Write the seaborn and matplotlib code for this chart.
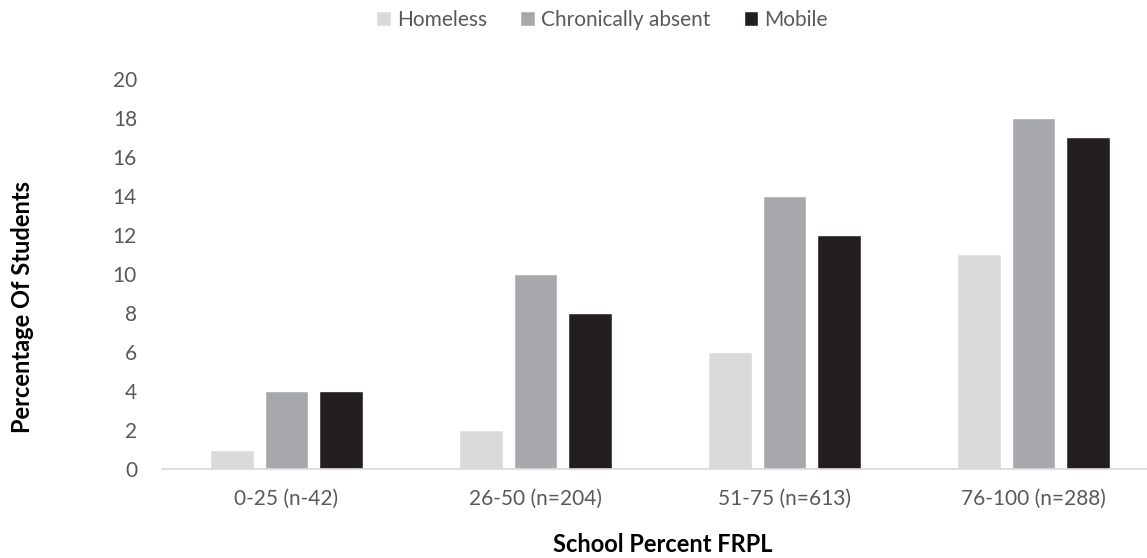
import matplotlib.pyplot as plt
import seaborn as sns
import pandas as pd

categories = ['0-25 (n-42)', '26-50 (n=204)', '51-75 (n=613)', '76-100 (n=288)']
series = ['Homeless', 'Chronically absent', 'Mobile']
homeless = [1, 2, 6, 11]
chronically_absent = [4, 10, 14, 18]
mobile = [4, 8, 12, 17]
colors = ['#D9DADB', '#A7A8AB', '#231F20']

df = pd.DataFrame({
    'group': categories * 3,
    'series': [s for s in series for _ in categories],
    'value': homeless + chronically_absent + mobile,
})

sns.set_style('white')
plt.rcParams['font.family'] = ['Lato', 'DejaVu Sans']
text_c = '#595959'

fig = plt.figure(figsize=(11.47, 5.58), dpi=100)
ax = fig.add_axes([162 / 1147, 1 - 469 / 558, (1147 - 162) / 1147, (469 - 79) / 558])
sns.barplot(data=df, x='group', y='value', hue='series', hue_order=series,
            palette=colors, width=0.66, gap=0.2, ax=ax, legend=True,
            saturation=1)
ax.set_xlim(-0.5, -0.5 + (1147 - 162) / 249)
ax.set_ylim(0, 20)
ax.set_yticks(range(0, 21, 2))
ax.tick_params(axis='both', length=0, labelsize=15, colors=text_c)
ax.tick_params(axis='x', pad=14)
ax.tick_params(axis='y', pad=18)
ax.set_xlabel('')
ax.set_ylabel('')
sns.despine(ax=ax, left=True)
ax.spines['bottom'].set_color('#D9D9D9')
ax.spines['bottom'].set_linewidth(1.2)

handles, labels = ax.get_legend_handles_labels()
ax.get_legend().remove()
fig.legend(handles, labels, loc='center', bbox_to_anchor=(602 / 1147, 1 - 20 / 558),
           ncol=3, frameon=False, fontsize=15, labelcolor=text_c,
           handlelength=0.7, handleheight=0.7, handletextpad=0.3,
           columnspacing=1.6)

fig.text(663 / 1147, 1 - 545 / 558, 'School Percent FRPL', ha='center', va='center',
         fontsize=17, fontweight='bold', color='#000000')
fig.text(23 / 1147, 1 - 307 / 558, 'Percentage Of Students', ha='center', va='center',
         rotation=90, fontsize=17, fontweight='bold', color='#000000')

fig.savefig('out.png', dpi=100)
